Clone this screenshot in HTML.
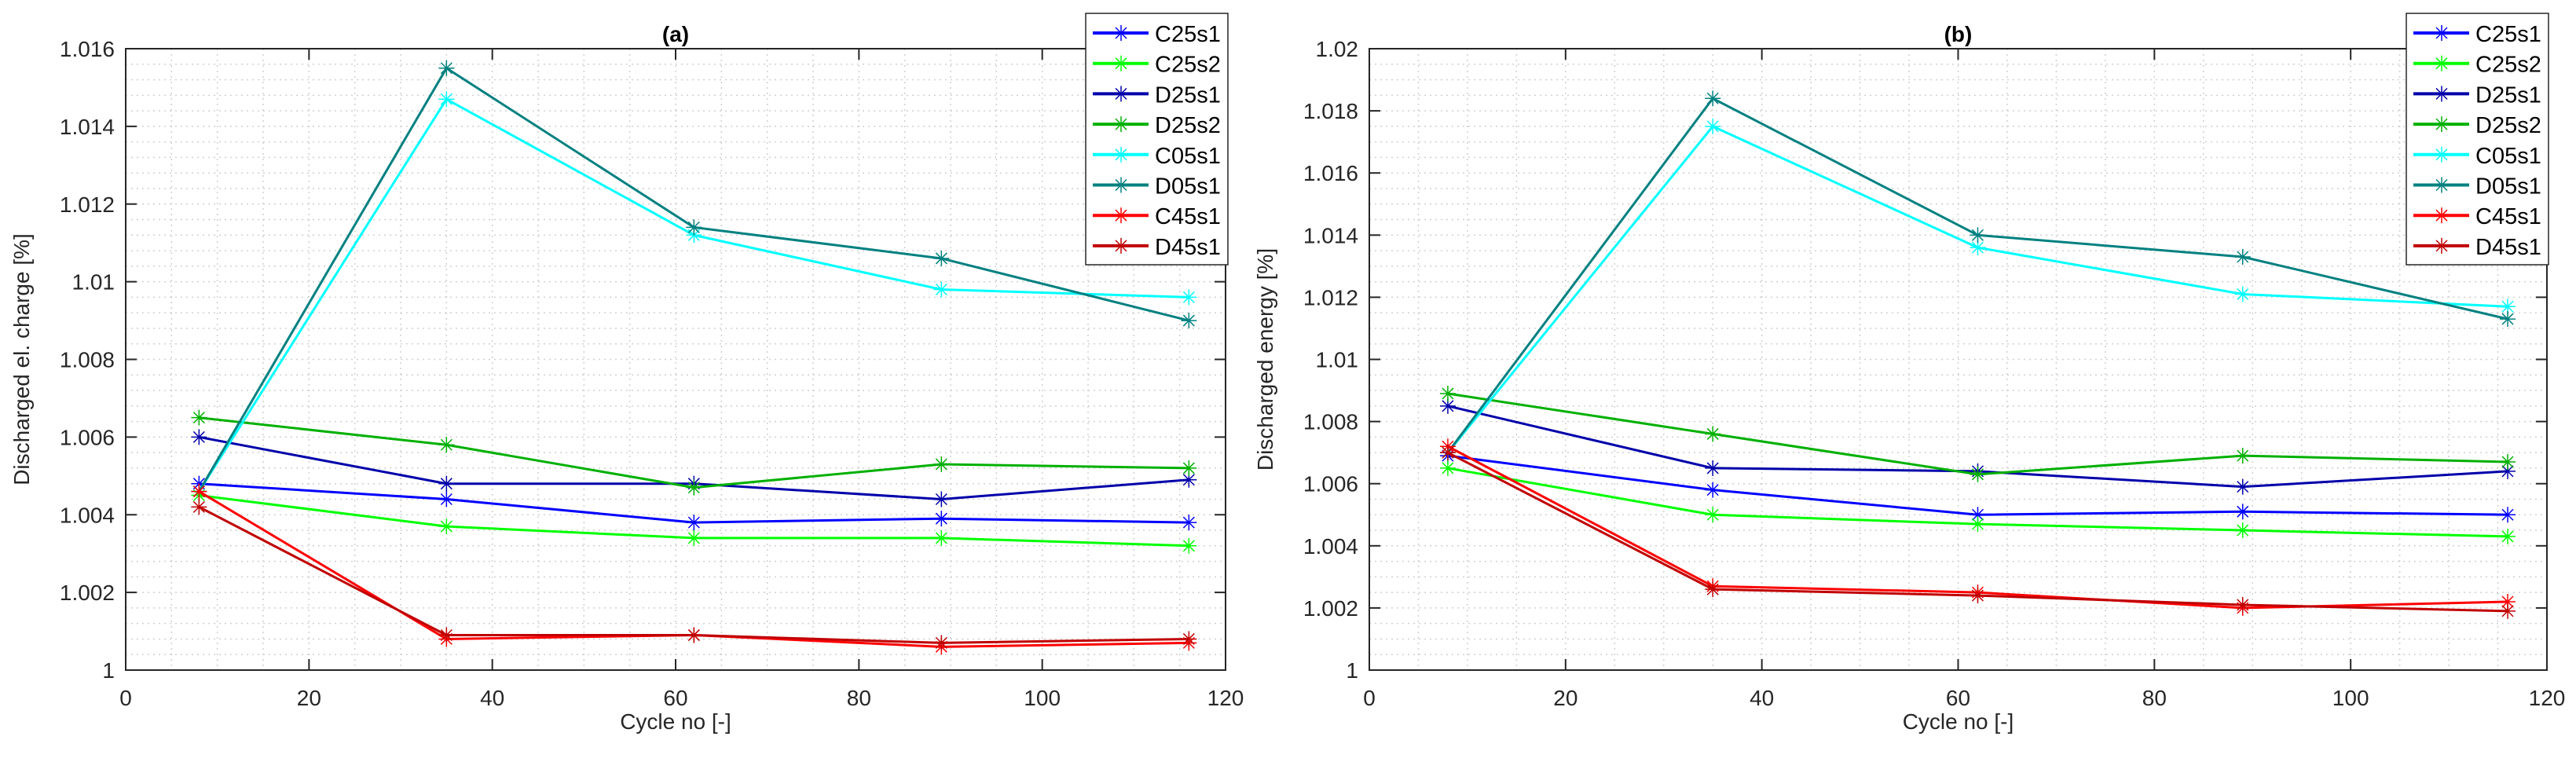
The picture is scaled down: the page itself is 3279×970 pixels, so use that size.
<!DOCTYPE html>
<html><head><meta charset="utf-8"><style>
html,body{margin:0;padding:0;background:#fff;}
svg{display:block;font-family:"Liberation Sans",sans-serif;}
</style></head><body>
<svg id="chart" width="3279" height="970" xmlns="http://www.w3.org/2000/svg"></svg>
<script>
const cycles = [8, 35, 62, 89, 116];
const seriesNames = ["C25s1","C25s2","D25s1","D25s2","C05s1","D05s1","C45s1","D45s1"];
const seriesColors = ["#0000ff","#00ff00","#0000aa","#00b000","#00ffff","#008080","#ff0000","#c00000"];
const chargeC25s1 = [1.0048,1.0044,1.0038,1.0039,1.0038];
const chargeC25s2 = [1.0045,1.0037,1.0034,1.0034,1.0032];
const chargeD25s1 = [1.0060,1.0048,1.0048,1.0044,1.0049];
const chargeD25s2 = [1.0065,1.0058,1.0047,1.0053,1.0052];
const chargeC05s1 = [1.0046,1.0147,1.0112,1.0098,1.0096];
const chargeD05s1 = [1.0046,1.0155,1.0114,1.0106,1.0090];
const chargeC45s1 = [1.0046,1.0008,1.0009,1.0006,1.0007];
const chargeD45s1 = [1.0042,1.0009,1.0009,1.0007,1.0008];
const energyC25s1 = [1.0069,1.0058,1.0050,1.0051,1.0050];
const energyC25s2 = [1.0065,1.0050,1.0047,1.0045,1.0043];
const energyD25s1 = [1.0085,1.0065,1.0064,1.0059,1.0064];
const energyD25s2 = [1.0089,1.0076,1.0063,1.0069,1.0067];
const energyC05s1 = [1.0070,1.0175,1.0136,1.0121,1.0117];
const energyD05s1 = [1.0070,1.0184,1.0140,1.0133,1.0113];
const energyC45s1 = [1.0072,1.0027,1.0025,1.0020,1.0022];
const energyD45s1 = [1.0070,1.0026,1.0024,1.0021,1.0019];
const xTicks = [0,20,40,60,80,100,120];
const yTicksA = [1,1.002,1.004,1.006,1.008,1.01,1.012,1.014,1.016];
const yTicksB = [1,1.002,1.004,1.006,1.008,1.01,1.012,1.014,1.016,1.018,1.02];

const NS="http://www.w3.org/2000/svg";
const svg=document.getElementById('chart');
function mk(tag,attrs,parent){const e=document.createElementNS(NS,tag);for(const k in attrs)e.setAttribute(k,attrs[k]);(parent||svg).appendChild(e);return e;}
function txt(s,attrs,parent){const e=mk('text',attrs,parent);e.textContent=s;return e;}

function panel(cfg){
  const g=mk('g',{});
  
  
  const L=cfg.left,R=cfg.right,T=62,B=853;
  const sx=v=>L+(v-0)/(120-0)*(R-L);
  const sy=v=>B-(v-1)/(cfg.ymax-1)*(B-T);
  // minor grid
  for(let v=5;v<120;v+=5){const x=sx(v);const l=mk('line',{x1:x,x2:x,y1:T,y2:B,stroke:'#d0d0d0','stroke-width':1.5,'stroke-dasharray':'2,5'},g);}
  const n=Math.round((cfg.ymax-1)/cfg.ystep);
  for(let i=1;i<n;i++){const y=sy(1+i*cfg.ystep);const l=mk('line',{x1:L,x2:R,y1:y,y2:y,stroke:'#d0d0d0','stroke-width':1.5,'stroke-dasharray':'2,5'},g);}
  // axes box
  const box=mk('rect',{x:L,y:T,width:R-L,height:B-T,fill:'none',stroke:'#262626','stroke-width':2},g);
  
  xTicks.forEach(v=>{const x=sx(v);
    mk('line',{x1:x,x2:x,y1:B,y2:B-14,stroke:'#262626','stroke-width':2},g);
    mk('line',{x1:x,x2:x,y1:T,y2:T+14,stroke:'#262626','stroke-width':2},g);
    const t=txt(String(v),{x:x,y:B+45,'text-anchor':'middle','font-size':28,fill:'#262626'},g);
    });
  cfg.yTicks.forEach(v=>{const y=sy(v);
    mk('line',{x1:L,x2:L+14,y1:y,y2:y,stroke:'#262626','stroke-width':2},g);
    mk('line',{x1:R,x2:R-14,y1:y,y2:y,stroke:'#262626','stroke-width':2},g);
    const t=txt(String(v),{x:L-14,y:y+10,'text-anchor':'end','font-size':28,fill:'#262626'},g);
    });
  const xt=txt('Cycle no [-]',{x:(L+R)/2,y:928,'text-anchor':'middle','font-size':28,fill:'#262626'},g);
  
  const yx=L-123,yy=(T+B)/2;
  const yt=txt(cfg.ylabel,{x:yx,y:yy,'text-anchor':'middle','font-size':28,fill:'#262626',transform:`rotate(-90 ${yx} ${yy})`},g);
  
  const tt=txt(cfg.title,{x:(L+R)/2,y:53,'text-anchor':'middle','font-size':28,'font-weight':'bold',fill:'#000'},g);
  
  // series
  cfg.data.forEach((vals,si)=>{
    const sg=mk('g',{},g);
    
    
    const pts=vals.map((v,i)=>sx(cycles[i])+','+sy(v)).join(' ');
    mk('polyline',{points:pts,fill:'none',stroke:seriesColors[si],'stroke-width':3},sg);
    vals.forEach((v,i)=>{const m=star(sx(cycles[i]),sy(v),seriesColors[si],sg);
      });
  });
  // legend
  const lx=cfg.legendX,ly=17;
  const lg=mk('g',{},g);
  
  mk('rect',{x:lx,y:ly,width:181,height:320,fill:'#fff',stroke:'#262626','stroke-width':1.5},lg);
  seriesNames.forEach((nm,i)=>{const y=ly+25+i*38.7;
    const e=mk('g',{},lg);
    
    mk('line',{x1:lx+9,x2:lx+80,y1:y,y2:y,stroke:seriesColors[i],'stroke-width':4},e);
    star(lx+45,y,seriesColors[i],e);
    txt(nm,{x:lx+88,y:y+11,'font-size':29,fill:'#000'},e);});
}
function star(x,y,c,p){const s=mk('g',{stroke:c,'stroke-width':1.5},p);const r=10;
  mk('line',{x1:x-r,x2:x+r,y1:y,y2:y},s);mk('line',{x1:x,x2:x,y1:y-r,y2:y+r},s);
  mk('line',{x1:x-7,x2:x+7,y1:y-7,y2:y+7},s);mk('line',{x1:x-7,x2:x+7,y1:y+7,y2:y-7},s);return s;}

panel({name:'panel-a',left:160,right:1560,ymax:1.016,ystep:0.0004,yTicks:yTicksA,title:'(a)',ylabel:'Discharged el. charge [%]',legendX:1382,
  data:[chargeC25s1,chargeC25s2,chargeD25s1,chargeD25s2,chargeC05s1,chargeD05s1,chargeC45s1,chargeD45s1]});
panel({name:'panel-b',left:1743,right:3242,ymax:1.02,ystep:0.0005,yTicks:yTicksB,title:'(b)',ylabel:'Discharged energy [%]',legendX:3063,
  data:[energyC25s1,energyC25s2,energyD25s1,energyD25s2,energyC05s1,energyD05s1,energyC45s1,energyD45s1]});
</script>
</body></html>
